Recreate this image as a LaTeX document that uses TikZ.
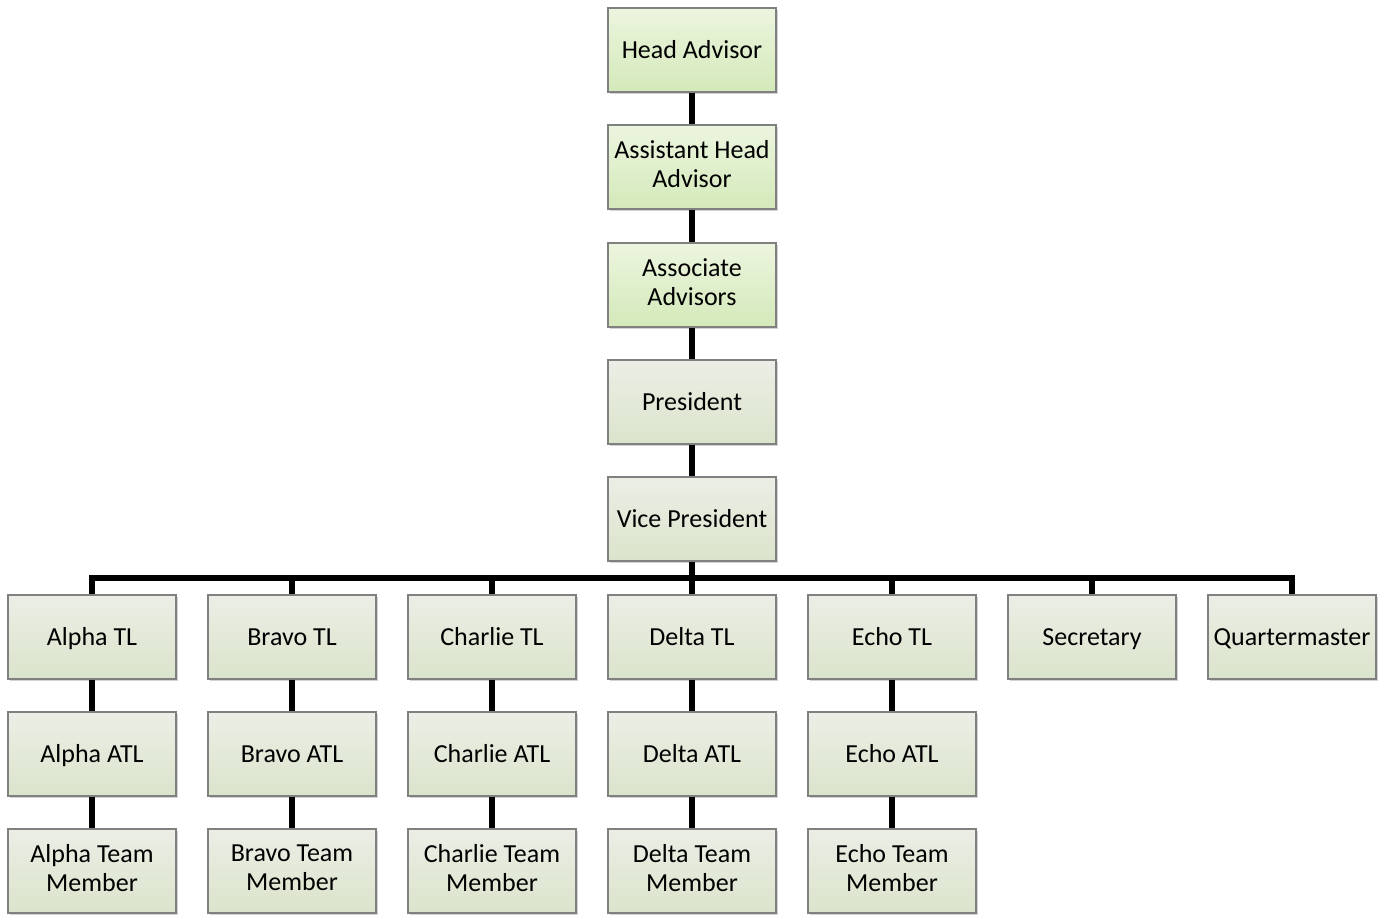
\documentclass[tikz,border=0pt]{standalone}
\usepackage{fontspec}
\setmainfont{Carlito}
\usetikzlibrary{shadows}

\definecolor{advtop}{RGB}{236,245,222}
\definecolor{advbot}{RGB}{212,233,186}
\definecolor{memtop}{RGB}{236,238,230}
\definecolor{membot}{RGB}{218,228,203}
\definecolor{boxline}{RGB}{128,128,128}
\newcommand\boxstrut{\rule[-4.75pt]{0pt}{22.5pt}}

\begin{document}
\begin{tikzpicture}[
                x=0.75pt, y=-0.75pt,
                every node/.style={
                  draw=boxline,
                  line width=1.1pt,
                  rectangle,
                  align=center,
                  inner sep=0pt,
                  minimum width=126pt,
                  minimum height=63pt,
                  font=\fontsize{19.5}{21.75}\selectfont,
                  execute at begin node=\boxstrut,
                  execute at end node=\boxstrut,
                  top color=memtop, bottom color=membot,
                  drop shadow={opacity=0.35, shadow xshift=1.8pt, shadow yshift=-1.8pt},
                },
                advisor/.style={top color=advtop, bottom color=advbot},
                twoline/.style={execute at begin node=\rule{0pt}{20.75pt},
                  execute at end node={}},
                link/.style={line width=3.8pt, line join=miter},
              ]
              \useasboundingbox (0,0) rectangle (1388,915) ;
              % advisors and officers
              \node[advisor] at (692,50) (head) {Head Advisor} ;
              \node[advisor,twoline] at (692,167) (asst) {Assistant Head\\Advisor} ;
              \node[advisor,twoline] at (692,285) (assoc) {Associate\\Advisors} ;
              \node at (692,402) (pres) {President} ;
              \node at (692,519) (vp) {Vice President} ;
              \coordinate (bar) at (692,578) ;
              % team leaders
              \node at (92,637) (alphatl) {Alpha TL} ;
              \node at (292,637) (bravotl) {Bravo TL} ;
              \node at (492,637) (charlietl) {Charlie TL} ;
              \node at (692,637) (deltatl) {Delta TL} ;
              \node at (892,637) (echotl) {Echo TL} ;
              \node at (1092,637) (sec) {Secretary} ;
              \node at (1292,637) (qm) {Quartermaster} ;
              % assistant team leaders
              \node at (92,754) (alphaatl) {Alpha ATL} ;
              \node at (292,754) (bravoatl) {Bravo ATL} ;
              \node at (492,754) (charlieatl) {Charlie ATL} ;
              \node at (692,754) (deltaatl) {Delta ATL} ;
              \node at (892,754) (echoatl) {Echo ATL} ;
              % team members
              \node[twoline] at (92,871) (alphatm) {Alpha Team\\Member} ;
              \node[twoline] at (292,871) (bravotm) {Bravo Team\\Member} ;
              \node[twoline] at (492,871) (charlietm) {Charlie Team\\Member} ;
              \node[twoline] at (692,871) (deltatm) {Delta Team\\Member} ;
              \node[twoline] at (892,871) (echotm) {Echo Team\\Member} ;
              \draw[link] (head)--(asst) ;
              \draw[link] (asst)--(assoc) ;
              \draw[link] (assoc)--(pres) ;
              \draw[link] (pres)--(vp) ;
              \draw[link] (vp.south)--(bar) ;
              \draw[link] (bar) -| (alphatl.north) ;
              \draw[link] (bar) -| (bravotl.north) ;
              \draw[link] (bar) -| (charlietl.north) ;
              \draw[link] (bar) -- (deltatl.north) ;
              \draw[link] (bar) -| (echotl.north) ;
              \draw[link] (bar) -| (sec.north) ;
              \draw[link] (bar) -| (qm.north) ;
              \draw[link] (alphatl)--(alphaatl) ;
              \draw[link] (alphaatl)--(alphatm) ;
              \draw[link] (bravotl)--(bravoatl) ;
              \draw[link] (bravoatl)--(bravotm) ;
              \draw[link] (charlietl)--(charlieatl) ;
              \draw[link] (charlieatl)--(charlietm) ;
              \draw[link] (deltatl)--(deltaatl) ;
              \draw[link] (deltaatl)--(deltatm) ;
              \draw[link] (echotl)--(echoatl) ;
              \draw[link] (echoatl)--(echotm) ;
              \end{tikzpicture}
\end{document}
